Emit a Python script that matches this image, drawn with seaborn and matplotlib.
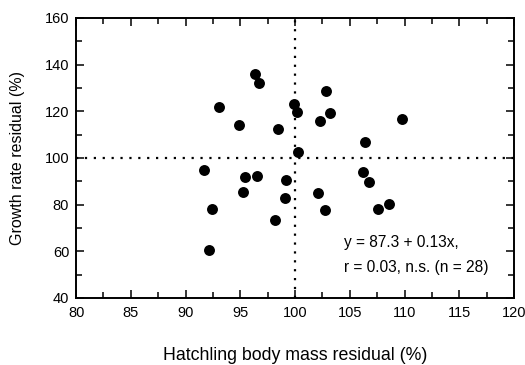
import numpy as np
import pandas as pd
import seaborn as sns
import matplotlib.pyplot as plt
from matplotlib.ticker import MultipleLocator

# residuales de masa al eclosionar (%) y de tasa de crecimiento (%)
masa = [96.35, 96.74, 102.8, 93.09, 99.91, 100.15, 103.2, 102.3, 94.86, 98.48,
        109.8, 106.42, 100.24, 91.72, 95.46, 96.5, 99.18, 106.2, 106.76, 95.28,
        99.09, 102.07, 92.39, 107.58, 108.58, 102.74, 98.14, 92.15]
crecimiento = [135.8, 132.2, 128.8, 121.9, 123.3, 119.8, 119.3, 115.9, 114.2, 112.3,
               116.8, 106.9, 102.6, 94.8, 91.8, 92.3, 90.3, 94.0, 89.8, 85.4,
               83.0, 85.0, 77.9, 78.2, 80.1, 77.5, 73.2, 60.5]

df = pd.DataFrame({"masa": masa, "crecimiento": crecimiento})

sns.set_style("ticks")
plt.rcParams['font.family'] = ['Liberation Sans', 'DejaVu Sans']
plt.rcParams['text.color'] = 'black'
plt.rcParams['axes.labelcolor'] = 'black'
plt.rcParams['xtick.color'] = 'black'
plt.rcParams['ytick.color'] = 'black'

fig = plt.figure(figsize=(5.25, 3.65), dpi=100)
ax = fig.add_axes([0.145, 0.184, 0.834, 0.767])

# lineas de referencia en 100 %
ax.axvline(100, color="black", linestyle=(0, (1, 3)), linewidth=1.6, zorder=1)
ax.axhline(100, color="black", linestyle=(0, (1, 3)), linewidth=1.6, zorder=1)

sns.scatterplot(x="masa", y="crecimiento", data=df, color="black", s=62,
                edgecolor="black", linewidth=0, ax=ax, zorder=3)

ax.set_xlim(80, 120)
ax.set_ylim(40, 160)
ax.xaxis.set_major_locator(MultipleLocator(5))
ax.xaxis.set_minor_locator(MultipleLocator(2.5))
ax.yaxis.set_major_locator(MultipleLocator(20))
ax.yaxis.set_minor_locator(MultipleLocator(10))
ax.tick_params(which="both", direction="in", top=True, right=True, labelsize=10.5,
               color="black", labelcolor="black", width=1.1)
ax.tick_params(which="major", length=6)
ax.tick_params(which="minor", length=4)
ax.tick_params(axis="x", pad=6)
ax.tick_params(axis="y", pad=5)
for sp in ax.spines.values():
    sp.set_visible(True)
    sp.set_linewidth(1.4)
    sp.set_color("black")

ax.text(104.5, 63.6, "y = 87.3 + 0.13x,", fontsize=11.2, va="center")
ax.text(104.5, 52.9, "r = 0.03, n.s. (n = 28)", fontsize=11.2, va="center")

ax.set_xlabel("Hatchling body mass residual (%)", fontsize=12.8, labelpad=19)
ax.set_ylabel("Growth rate residual (%)", fontsize=11.5, labelpad=14)

plt.savefig("out.png", dpi=100)
